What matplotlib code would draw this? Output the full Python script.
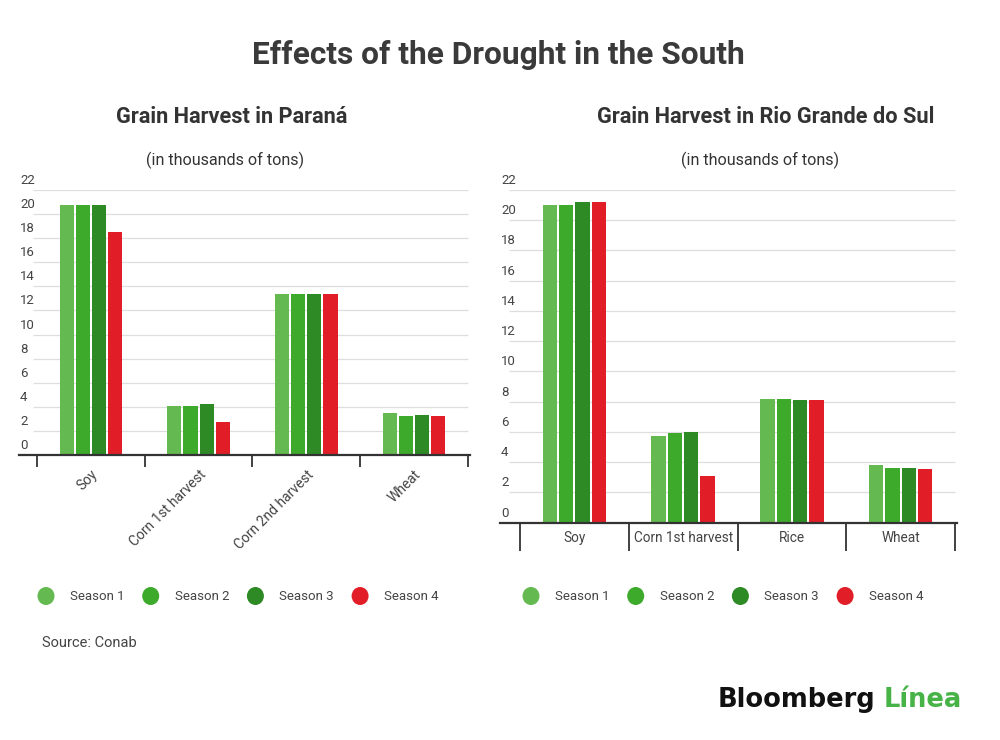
import matplotlib
matplotlib.use("Agg")
import matplotlib.pyplot as plt
import matplotlib.transforms as mtransforms
import numpy as np

plt.rcParams["font.family"] = ["Roboto", "DejaVu Sans"]

# --- data (thousands of tons) ---
seasons = ["Season 1", "Season 2", "Season 3", "Season 4"]
colors = ["#64b950", "#3daa2b", "#2e8a25", "#e11e28"]

pr_crops = ["Soy", "Corn 1st harvest", "Corn 2nd harvest", "Wheat"]
pr_s1 = [20.75, 4.1, 13.4, 3.47]
pr_s2 = [20.75, 4.1, 13.4, 3.2]
pr_s3 = [20.75, 4.2, 13.4, 3.28]
pr_s4 = [18.5, 2.75, 13.4, 3.23]

rs_crops = ["Soy", "Corn 1st harvest", "Rice", "Wheat"]
rs_s1 = [21.0, 5.75, 8.17, 3.81]
rs_s2 = [21.0, 5.9, 8.17, 3.6]
rs_s3 = [21.2, 5.97, 8.1, 3.6]
rs_s4 = [21.2, 3.1, 8.1, 3.52]

yticks = [0, 2, 4, 6, 8, 10, 12, 14, 16, 18, 20, 22]

W, H = 1000, 740
fig = plt.figure(figsize=(W / 100, H / 100), dpi=100)
fig.patch.set_facecolor("white")


def px_axes(x0, x1, y_top, y_bot):
    return fig.add_axes([x0 / W, 1 - y_bot / H, (x1 - x0) / W, (y_bot - y_top) / H])


def draw_panel(ax, crops, series, xlim, grid_start, rotate):
    x = np.arange(len(crops))
    for i, (vals, col) in enumerate(zip(series, colors)):
        ax.bar(x + (i - 1.5) * 0.15, vals, width=0.132, color=col, zorder=3)
    ax.set_xlim(*xlim)
    ax.set_ylim(0, 22)
    ax.hlines(yticks[1:], grid_start, 3.5, color="#dedede", lw=0.9, zorder=1)
    for s in ["top", "right", "left"]:
        ax.spines[s].set_visible(False)
    ax.spines["bottom"].set_color("#333333")
    ax.spines["bottom"].set_linewidth(1.6)
    ax.spines["bottom"].set_zorder(4)
    ax.set_yticks([])
    # y labels sit just above their gridline
    off = mtransforms.offset_copy(ax.get_yaxis_transform(), fig=fig, x=1, y=9.5, units="dots")
    for v in yticks:
        ax.text(0, v, str(v), transform=off, ha="left", va="center",
                fontsize=9.5, color="#444444")
    ax.set_xticks(np.arange(-0.5, 4, 1), minor=True)
    if rotate:
        ax.set_xticks(x, crops, rotation=45, ha="right", rotation_mode="anchor")
        ax.tick_params(axis="x", which="major", length=0, pad=9, labelsize=10,
                       labelcolor="#444444")
        ax.tick_params(axis="x", which="minor", length=8.5, width=1.3, color="#333333")
    else:
        ax.set_xticks(x, crops)
        ax.tick_params(axis="x", which="major", length=0, pad=6, labelsize=9.8,
                       labelcolor="#444444")
        ax.tick_params(axis="x", which="minor", length=20, width=1.3, color="#333333")


# left panel: Parana
ax1 = px_axes(19, 470, 190, 455)
draw_panel(ax1, pr_crops, [pr_s1, pr_s2, pr_s3, pr_s4], (-0.667, 3.52), -0.537, True)

# right panel: Rio Grande do Sul
ax2 = px_axes(500, 957, 190, 522.7)
draw_panel(ax2, rs_crops, [rs_s1, rs_s2, rs_s3, rs_s4], (-0.684, 3.518), -0.6, False)

# titles
fig.text(498 / W, 1 - 55 / H, "Effects of the Drought in the South", ha="center", va="center",
         fontsize=22.8, fontweight="bold", color="#3a3a3a")
fig.text(232 / W, 1 - 117 / H, "Grain Harvest in Paraná", ha="center", va="center",
         fontsize=15.7, fontweight="bold", color="#333333")
fig.text(766 / W, 1 - 117 / H, "Grain Harvest in Rio Grande do Sul", ha="center", va="center",
         fontsize=15.7, fontweight="bold", color="#333333")
fig.text(225 / W, 1 - 160 / H, "(in thousands of tons)", ha="center", va="center",
         fontsize=11.6, color="#333333")
fig.text(760 / W, 1 - 160 / H, "(in thousands of tons)", ha="center", va="center",
         fontsize=11.6, color="#333333")

# legends
for x0 in (46, 531):
    for i, (name, col) in enumerate(zip(seasons, colors)):
        cx = x0 + i * 104.7
        fig.patches.append(matplotlib.patches.Ellipse(
            (cx / W, 1 - 596 / H), 17 / W, 18 / H, transform=fig.transFigure,
            facecolor=col, edgecolor="none"))
        fig.text((cx + 24) / W, 1 - 596 / H, name, ha="left", va="center",
                 fontsize=9.5, color="#444444")

fig.text(42 / W, 1 - 643 / H, "Source: Conab", ha="left", va="center",
         fontsize=10.5, color="#444444")

# logo: "Línea" placed right after the measured "Bloomberg"
logo_font = ["DejaVu Sans"]
t1 = fig.text(718 / W, 1 - 700 / H, "Bloomberg", ha="left", va="center", fontsize=18.5,
              fontweight="bold", color="#111111", family=logo_font)
fig.canvas.draw()
bb = t1.get_window_extent()
fig.text((bb.x1 + 8) / W, 1 - 700 / H, "Línea", ha="left", va="center", fontsize=18.5,
         fontweight="bold", color="#47b347", family=logo_font)

fig.savefig("out.png", dpi=100, facecolor="white")
